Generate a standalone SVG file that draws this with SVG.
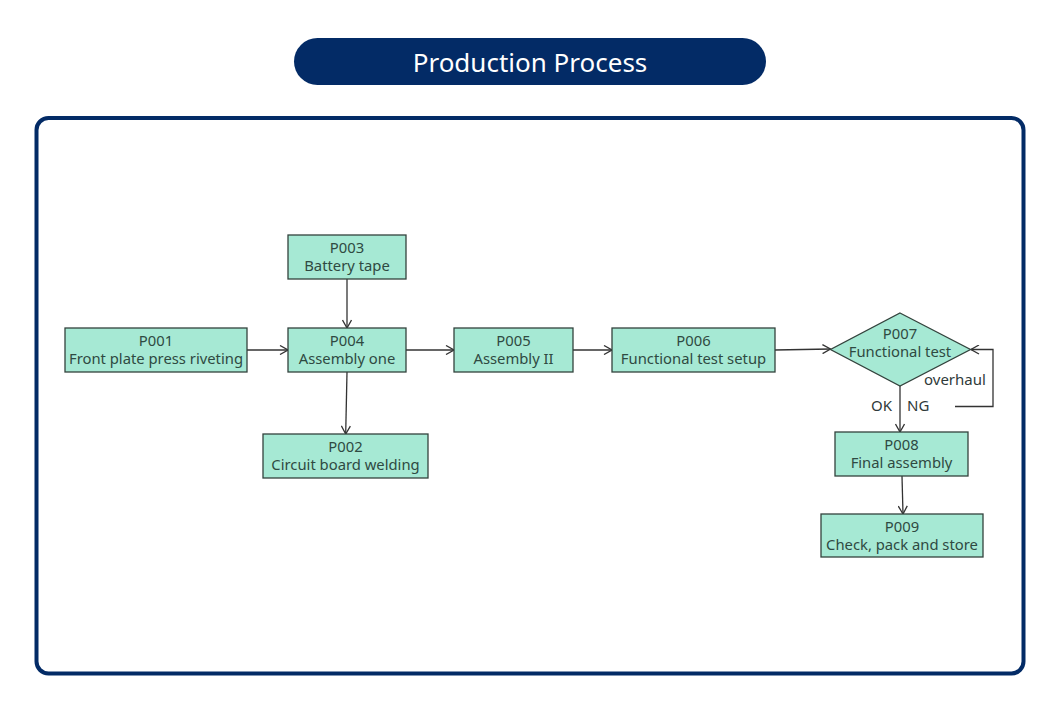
<svg xmlns="http://www.w3.org/2000/svg" width="1060" height="724" viewBox="0 0 1060 724">
  <defs>
    <style>
      .node rect, .node polygon { fill: #a6e9d4; stroke: #33433d; stroke-width: 1.3; }
      .node text { font-family: "Noto Sans", "Open Sans", sans-serif; font-size: 14.8px; fill: #2f4a42; text-anchor: middle; }
      .edge { fill: none; stroke: #333; stroke-width: 1.3; }
      .lbl { font-family: "Noto Sans", "Open Sans", sans-serif; font-size: 15px; fill: #2f3a3a; }
    </style>
    <marker id="arr" viewBox="0 0 10 10" refX="9" refY="5" markerWidth="10" markerHeight="10" markerUnits="userSpaceOnUse" orient="auto">
      <path d="M1,0.5 L9,5 L1,9.5" fill="none" stroke="#333" stroke-width="1.3"/>
    </marker>
  </defs>
  <rect width="1060" height="724" fill="#ffffff"/>
  <g id="title">
    <rect x="294" y="38" width="472" height="47" rx="23.5" fill="#032b66"/>
    <text x="530" y="72" font-family="Noto Sans, Open Sans, sans-serif" font-size="26" fill="#ffffff" text-anchor="middle">Production Process</text>
  </g>
  <rect id="frame" x="36.5" y="118" width="987" height="555.5" rx="12" fill="none" stroke="#032b66" stroke-width="4"/>

  <g id="connectors">
    <line class="edge" x1="247" y1="350" x2="288" y2="350" marker-end="url(#arr)"/>
    <line class="edge" x1="347" y1="279" x2="347" y2="328" marker-end="url(#arr)"/>
    <line class="edge" x1="347" y1="372" x2="345.7" y2="434" marker-end="url(#arr)"/>
    <line class="edge" x1="406" y1="350" x2="454" y2="350" marker-end="url(#arr)"/>
    <line class="edge" x1="573" y1="350" x2="612" y2="350" marker-end="url(#arr)"/>
    <line class="edge" x1="775" y1="350" x2="830.5" y2="349" marker-end="url(#arr)"/>
    <line class="edge" x1="900" y1="386" x2="900" y2="432" marker-end="url(#arr)"/>
    <line class="edge" x1="902" y1="476" x2="903" y2="514" marker-end="url(#arr)"/>
    <polyline class="edge" points="955,406.5 993,406.5 993,349.5 971,349.5" marker-end="url(#arr)"/>
    <text class="lbl" x="924" y="385">overhaul</text>
    <text class="lbl" x="871" y="411">OK</text>
    <text class="lbl" x="907" y="411">NG</text>
  </g>

  <g id="P001" class="node">
    <rect x="65" y="328" width="182" height="44"/>
    <text x="156" y="346">P001</text>
    <text x="156" y="364">Front plate press riveting</text>
  </g>
  <g id="P003" class="node">
    <rect x="288" y="235" width="118" height="44"/>
    <text x="347" y="253">P003</text>
    <text x="347" y="271">Battery tape</text>
  </g>
  <g id="P004" class="node">
    <rect x="288" y="328" width="118" height="44"/>
    <text x="347" y="346">P004</text>
    <text x="347" y="364">Assembly one</text>
  </g>
  <g id="P002" class="node">
    <rect x="263" y="434" width="165" height="44"/>
    <text x="345.5" y="452">P002</text>
    <text x="345.5" y="470">Circuit board welding</text>
  </g>
  <g id="P005" class="node">
    <rect x="454" y="328" width="119" height="44"/>
    <text x="513.5" y="346">P005</text>
    <text x="513.5" y="364">Assembly II</text>
  </g>
  <g id="P006" class="node">
    <rect x="612" y="328" width="163" height="44"/>
    <text x="693.5" y="346">P006</text>
    <text x="693.5" y="364">Functional test setup</text>
  </g>
  <g id="P007" class="node">
    <polygon points="900,313 970.5,349.5 900,386 830.5,349.5"/>
    <text x="900" y="339">P007</text>
    <text x="900" y="357">Functional test</text>
  </g>
  <g id="P008" class="node">
    <rect x="835" y="432" width="133" height="44"/>
    <text x="901.5" y="450">P008</text>
    <text x="901.5" y="468">Final assembly</text>
  </g>
  <g id="P009" class="node">
    <rect x="821" y="514" width="162" height="43"/>
    <text x="902" y="532">P009</text>
    <text x="902" y="550">Check, pack and store</text>
  </g>
</svg>
